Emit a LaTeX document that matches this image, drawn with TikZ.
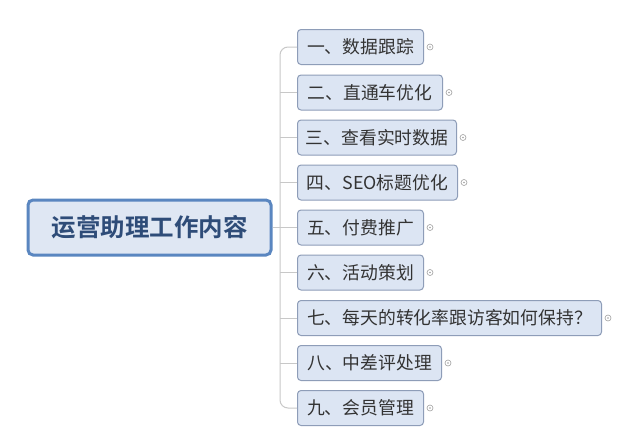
\documentclass[tikz,border=0pt]{standalone}
\usepackage{fontspec}
\newfontfamily\cjk{Noto Sans CJK SC}
\newfontfamily\cjkbold{Noto Sans CJK SC Bold}
\definecolor{mainfill}{HTML}{DFE7F3}
\definecolor{mainborder}{HTML}{5A86C0}
\definecolor{maintext}{HTML}{2E4C78}
\definecolor{subfill}{HTML}{DCE5F3}
\definecolor{subborder}{HTML}{8E9DB8}
\definecolor{subtext}{HTML}{333333}
\definecolor{linecol}{HTML}{C8C8C8}
\definecolor{markcol}{HTML}{A0A0A0}
\begin{document}
\begin{tikzpicture}[x=1pt,y=-1pt,
  mainbox/.style={draw=mainborder,line width=3pt,fill=mainfill,rounded corners=5pt,
    minimum width=243pt,minimum height=55pt,inner sep=0pt,
    font=\cjkbold\fontsize{24.5}{26}\selectfont,text=maintext},
  subbox/.style={draw=subborder,line width=1pt,fill=subfill,rounded corners=3.5pt,
    minimum height=35pt,inner sep=0pt,anchor=west,
    font=\cjk\fontsize{17.8}{19}\selectfont,text=subtext},
  conn/.style={draw=linecol,line width=1pt,rounded corners=8pt},
  marker/.style={circle,draw=markcol,line width=0.6pt,fill=white,minimum size=6pt,inner sep=0pt}
]
\useasboundingbox (0,0) rectangle (640,437);
\fill[white] (0,0) rectangle (640,437);
\node[mainbox] (main) at (149.5,227.5) {运营助理工作内容};
\node[subbox,minimum width=126pt] (b1) at (297,47) {一、数据跟踪};
\node[subbox,minimum width=145pt] (b2) at (297,92.5) {二、直通车优化};
\node[subbox,minimum width=159pt] (b3) at (297,137.5) {三、查看实时数据};
\node[subbox,minimum width=160pt] (b4) at (297,182.5) {四、SEO标题优化};
\node[subbox,minimum width=126pt] (b5) at (297,227.5) {五、付费推广};
\node[subbox,minimum width=126pt] (b6) at (297,272.5) {六、活动策划};
\node[subbox,minimum width=304pt] (b7) at (297,318) {七、每天的转化率跟访客如何保持？};
\node[subbox,minimum width=144pt] (b8) at (297,363) {八、中差评处理};
\node[subbox,minimum width=126pt] (b9) at (297,408) {九、会员管理};
\coordinate (trunk) at (280,227.5);
\draw[conn] (b1.west) -| (trunk) |- (b9.west);
\draw[conn] (main.east) -- (b5.west);
\foreach \i in {2,3,4,6,7,8}{
  \draw[conn] (b\i.west -| trunk) -- (b\i.west);
}
\foreach \i in {1,...,9}{
  \node[marker] (m\i) at ([xshift=6pt]b\i.east) {};
  \fill[markcol] (m\i.center) circle (0.9pt);
}
\end{tikzpicture}
\end{document}
